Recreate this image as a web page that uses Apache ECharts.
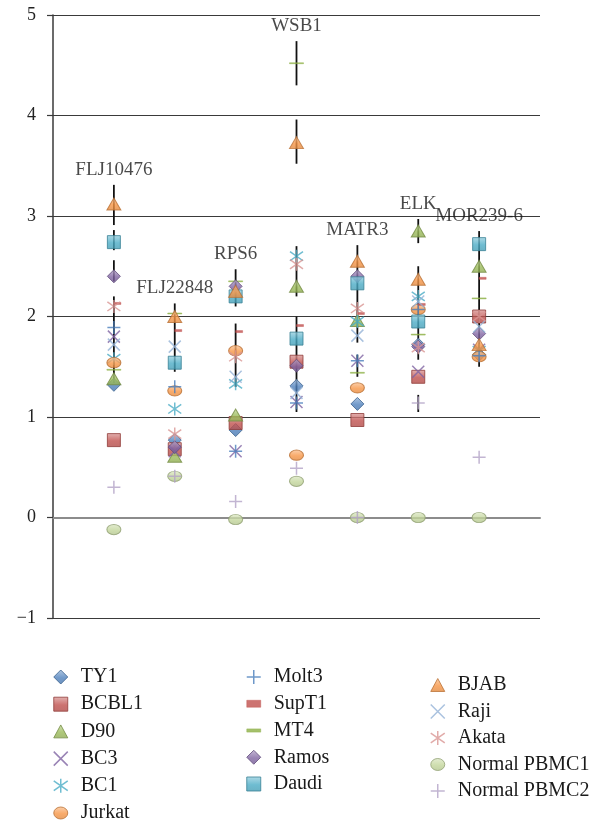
<!DOCTYPE html>
<html>
<head>
<meta charset="utf-8">
<title>Relative expression by cell line</title>
<script src="https://cdn.jsdelivr.net/npm/echarts@6.0.0/dist/echarts.min.js"></script>
<style>
  html, body { margin: 0; padding: 0; background: #fff; }
  #chart { width: 593px; height: 823px; }
</style>
</head>
<body>
<div id="chart"></div>
<script>
// Genes along the horizontal axis
const categories = ['FLJ10476', 'FLJ22848', 'RPS6', 'WSB1', 'MATR3', 'ELK', 'MOR239-6'];

// Value axis ticks
const yTicks = [-1, 0, 1, 2, 3, 4, 5];

// Relative expression per cell line, one value per gene (same order as categories)
const TY1         = [1.32, 0.77, 0.87, 1.31, 1.13, 1.72, 1.62];
const BCBL1       = [0.77, 0.68, 0.94, 1.55, 0.97, 1.40, 2.00];
const D90         = [1.38, 0.61, 1.02, 2.30, 1.96, 2.85, 2.50];
const BC3         = [1.80, 0.66, 0.66, 1.15, 1.56, 1.45, 1.67];
const BC1         = [1.58, 1.08, 1.33, 2.60, 1.95, 2.20, 1.66];
const Jurkat      = [1.54, 1.26, 1.66, 0.62, 1.29, 2.07, 1.60];
const Molt3       = [1.89, 1.30, 0.66, 1.14, 1.56, 2.07, 1.61];
const SupT1       = [2.13, 1.86, 1.85, 1.91, 2.03, 2.12, 2.38];
const MT4         = [1.47, 2.03, 2.35, 4.52, 1.44, 1.82, 2.18];
const Ramos       = [2.40, 0.70, 2.30, 1.51, 2.40, 1.70, 1.83];
const Daudi       = [2.74, 1.54, 2.20, 1.78, 2.33, 1.95, 2.72];
const BJAB        = [3.12, 2.00, 2.25, 3.73, 2.55, 2.37, 1.72];
const Raji        = [1.72, 1.70, 1.40, 1.24, 1.81, 2.15, 1.90];
const Akata       = [2.10, 0.83, 1.60, 2.52, 2.08, 1.69, 2.00];
const NormalPBMC1 = [-0.12, 0.41, -0.02, 0.36, 0.00, 0.00, 0.00];
const NormalPBMC2 = [0.30, 0.41, 0.16, 0.49, 0.00, 1.14, 0.60];

// Error bar spans: [gene index, low, high]
const errorBars = [
  [0, 2.91, 3.31], [0, 2.66, 2.86], [0, 2.35, 2.56], [0, 1.34, 2.20],
  [1, 1.45, 2.13],
  [2, 2.10, 2.47], [2, 1.30, 1.93],
  [3, 4.30, 4.74], [3, 3.52, 3.96], [3, 2.20, 2.70], [3, 1.05, 2.00],
  [4, 1.74, 2.71], [4, 1.40, 1.62],
  [5, 2.73, 2.97], [5, 1.57, 2.50], [5, 1.05, 1.22],
  [6, 1.50, 2.85]
];

// Marker outlines
const SYM = {
  diamond:  'path://M6 0L12 6L6 12L0 6Z',
  square:   'path://M0 0H12V12H0Z',
  triangle: 'path://M6.5 0L13 12H0Z',
  circle:   'path://M0 6A7 6 0 1 1 14 6A7 6 0 1 1 0 6Z',
  cross:    'path://M0 0L10 10M10 0L0 10',
  star:     'path://M0 1.5L10 8.5M10 1.5L0 8.5M5 0L5 10',
  plus:     'path://M6 0V12M0 6H12',
  longDash: 'path://M0 0H13V3H0Z',
  shortDash:'path://M0 0H6V3H0Z'
};

function mix(hex, target, t) {
  const a = parseInt(hex.slice(1), 16), b = parseInt(target.slice(1), 16);
  const ch = (v, s) => (v >> s) & 255;
  const m = s => Math.round(ch(a, s) + (ch(b, s) - ch(a, s)) * t);
  return 'rgb(' + m(16) + ',' + m(8) + ',' + m(0) + ')';
}

function filled(base) {
  return {
    color: new echarts.graphic.LinearGradient(0, 0, 0, 1, [
      { offset: 0, color: mix(base, '#ffffff', 0.45) },
      { offset: 0.55, color: base },
      { offset: 1, color: mix(base, '#000000', 0.08) }
    ]),
    borderColor: mix(base, '#000000', 0.25),
    borderWidth: 1
  };
}
function stroked(base, w) {
  return { color: 'rgba(0,0,0,0)', borderColor: base, borderWidth: w || 1.5 };
}
function solid(base) {
  return { color: base, borderColor: base, borderWidth: 0.5 };
}

const cellLines = [
  { name: 'TY1',          data: TY1,         symbol: SYM.diamond,  size: [13, 13], style: filled('#4F81BD') },
  { name: 'BCBL1',        data: BCBL1,       symbol: SYM.square,   size: [13, 13], style: filled('#C0504D') },
  { name: 'D90',          data: D90,         symbol: SYM.triangle, size: [14, 13], style: filled('#9BBB59') },
  { name: 'BC3',          data: BC3,         symbol: SYM.cross,    size: [12, 12], style: stroked('#8064A2') },
  { name: 'BC1',          data: BC1,         symbol: SYM.star,     size: [13, 13], style: stroked('#4BACC6') },
  { name: 'Jurkat',       data: Jurkat,      symbol: SYM.circle,   size: [14, 12], style: filled('#F79646') },
  { name: 'Molt3',        data: Molt3,       symbol: SYM.plus,     size: [13, 13], style: stroked('#4A7EBB') },
  { name: 'SupT1',        data: SupT1,       symbol: SYM.shortDash,size: [7, 4],   style: solid('#C0504D'), offset: [3.5, 0] },
  { name: 'MT4',          data: MT4,         symbol: SYM.longDash, size: [14, 4],  style: solid('#8DB046') },
  { name: 'Ramos',        data: Ramos,       symbol: SYM.diamond,  size: [13, 13], style: filled('#8064A2') },
  { name: 'Daudi',        data: Daudi,       symbol: SYM.square,   size: [13, 13], style: filled('#4BACC6') },
  { name: 'BJAB',         data: BJAB,        symbol: SYM.triangle, size: [14, 13], style: filled('#F79646') },
  { name: 'Raji',         data: Raji,        symbol: SYM.cross,    size: [12, 12], style: stroked('#95B3D7') },
  { name: 'Akata',        data: Akata,       symbol: SYM.star,     size: [13, 13], style: stroked('#D99694') },
  { name: 'Normal PBMC1', data: NormalPBMC1, symbol: SYM.circle,   size: [14, 12], style: filled('#C3D69B') },
  { name: 'Normal PBMC2', data: NormalPBMC2, symbol: SYM.plus,     size: [13, 13], style: stroked('#B3A2C7') }
];

const legendColumns = [
  ['TY1', 'BCBL1', 'D90', 'BC3', 'BC1', 'Jurkat'],
  ['Molt3', 'SupT1', 'MT4', 'Ramos', 'Daudi'],
  ['BJAB', 'Raji', 'Akata', 'Normal PBMC1', 'Normal PBMC2']
];

const FONT = '"Liberation Serif", "DejaVu Serif", serif';

// Top of each gene's error bars, used to place the gene name
const barTops = categories.map((c, i) =>
  Math.max(...errorBars.filter(e => e[0] === i).map(e => e[2])));

const markerSeries = cellLines.map(s => ({
  name: s.name,
  type: 'scatter',
  z: 3,
  silent: true,
  symbol: s.symbol,
  symbolSize: s.size,
  symbolKeepAspect: true,
  symbolOffset: s.offset || [0, 0],
  itemStyle: s.style,
  data: s.data.map((v, i) => [i + 1, v])
}));

const legendLayout = [
  { left: 53, top: 667, gap: 7.2 },
  { left: 246, top: 667, gap: 6.75 },
  { left: 430, top: 675, gap: 6.5 }
];

const option = {
  animation: false,
  backgroundColor: '#ffffff',
  grid: { left: 53, right: 53, top: 15, bottom: 205 },
  xAxis: {
    type: 'value',
    min: 0,
    max: categories.length + 1,
    axisLine: { show: true, onZero: true, lineStyle: { color: '#8c8c8c', width: 2 } },
    axisTick: { show: false },
    axisLabel: { show: false },
    splitLine: { show: false }
  },
  yAxis: {
    type: 'value',
    min: yTicks[0],
    max: yTicks[yTicks.length - 1],
    interval: 1,
    axisLine: { show: true, lineStyle: { color: '#3a3a3a', width: 1.5 } },
    axisTick: { show: true, inside: false, length: 6, lineStyle: { color: '#3a3a3a', width: 1.2 } },
    axisLabel: {
      margin: 17,
      fontFamily: FONT,
      fontSize: 18,
      color: '#222',
      formatter: v => (v < 0 ? '\u2212' + Math.abs(v) : String(v))
    },
    splitLine: { show: true, lineStyle: { color: '#3a3a3a', width: 1 } }
  },
  legend: legendColumns.map((names, k) => ({
    orient: 'vertical',
    left: legendLayout[k].left,
    top: legendLayout[k].top,
    height: 240,
    padding: 0,
    itemGap: legendLayout[k].gap,
    itemWidth: 14,
    itemHeight: 14,
    selectedMode: false,
    symbolKeepAspect: true,
    itemStyle: { borderWidth: 'inherit' },
    textStyle: { fontFamily: FONT, fontSize: 20, color: '#1a1a1a', padding: [0, 0, 0, 8] },
    data: names
  })),
  series: [
    {
      name: 'error',
      type: 'custom',
      z: 2,
      silent: true,
      encode: { x: 0, y: [1, 2] },
      data: errorBars.map(e => [e[0] + 1, e[1], e[2]]),
      renderItem: (params, api) => {
        const p1 = api.coord([api.value(0), api.value(1)]);
        const p2 = api.coord([api.value(0), api.value(2)]);
        return {
          type: 'line',
          shape: { x1: p1[0], y1: p1[1], x2: p2[0], y2: p2[1] },
          style: { stroke: '#111', lineWidth: 1.8 }
        };
      }
    },
    ...markerSeries,
    {
      name: 'gene labels',
      type: 'scatter',
      z: 4,
      silent: true,
      symbolSize: 1,
      itemStyle: { color: 'rgba(0,0,0,0)' },
      label: {
        show: true,
        position: 'top',
        distance: 5,
        formatter: '{b}',
        fontFamily: FONT,
        fontSize: 19,
        color: '#1a1a1a'
      },
      data: categories.map((c, i) => ({ name: c, value: [i + 1, barTops[i]] }))
    }
  ]
};

const chart = echarts.init(document.getElementById('chart'), null, { renderer: 'canvas' });
chart.setOption(option);
</script>
</body>
</html>
